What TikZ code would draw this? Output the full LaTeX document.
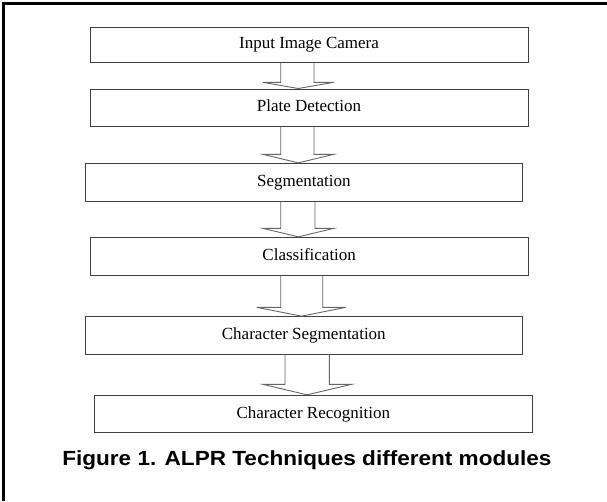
\documentclass[tikz,border=0pt]{standalone}
\usepackage{fontspec}
\setmainfont{Liberation Serif}
\newfontfamily\capfont{Liberation Sans}[FakeStretch=1.1]
\usetikzlibrary{calc}
\tikzset{
  modbox/.style={draw=black!75, line width=1pt, fill=white, inner sep=0pt,
    minimum height=37pt, text height=12pt, text depth=3.6pt,
    font=\fontsize{17}{20}\selectfont},
  blockarrow/.style={draw=black!60, line width=0.9pt, line join=miter},
  framerule/.style={draw=black, line width=2.6pt}
}
% #1 from, #2 to, #3 shaft left, #4 shaft right, #5 wing left, #6 wing right, #7 wing y, #8 tip x
\newcommand\blockarr[8]{%
  \draw[blockarrow] (#3,0 |- #1.south) -- (#3,#7) -- (#5,#7) -- (#8,0 |- #2.north)
    -- (#6,#7) -- (#4,#7) -- (#4,0 |- #1.south);}
\begin{document}
\begin{tikzpicture}[x=1pt,y=-1pt]
\useasboundingbox (0,0) rectangle (607,501);
\fill[white] (0,0) rectangle (607,501);
\coordinate (fTL) at (3.3,3.3);
\coordinate (fTR) at (607,3.3);
\coordinate (fBL) at (3.3,501);
\draw[framerule] (fTR) -- (fTL) -- (fBL);

\node[modbox, minimum width=438pt, minimum height=35pt] (b1) at (309,44.5) {Input Image Camera};
\node[modbox, minimum width=438pt] (b2) at (309,107.5) {Plate Detection};
\node[modbox, minimum width=437.6pt, minimum height=37.7pt] (b3) at (303.8,182.2) {Segmentation};
\node[modbox, minimum width=438.4pt, minimum height=37.7pt] (b4) at (309.2,256.2) {Classification};
\node[modbox, minimum width=437.6pt, minimum height=37.5pt] (b5) at (303.8,335.4) {Character Segmentation};
\node[modbox, minimum width=438pt, minimum height=37.2pt] (b6) at (313.3,413.9) {Character Recognition};

\blockarr{b1}{b2}{280.7}{314}{262.7}{334}{82.3}{298.3}
\blockarr{b2}{b3}{280.7}{314}{262.7}{334}{154.3}{298.3}
\blockarr{b3}{b4}{280.7}{315}{262.7}{334}{228.3}{298.3}
\blockarr{b4}{b5}{280.7}{322.7}{256.7}{346}{307.3}{301.5}
\blockarr{b5}{b6}{285}{329.3}{262.7}{351.7}{384.3}{307}

\node[anchor=base, inner sep=0pt, font=\capfont\bfseries\fontsize{20.5}{24}\selectfont] (cap) at (306.9,465) {Figure 1. ALPR Techniques different modules};
\end{tikzpicture}
\end{document}
